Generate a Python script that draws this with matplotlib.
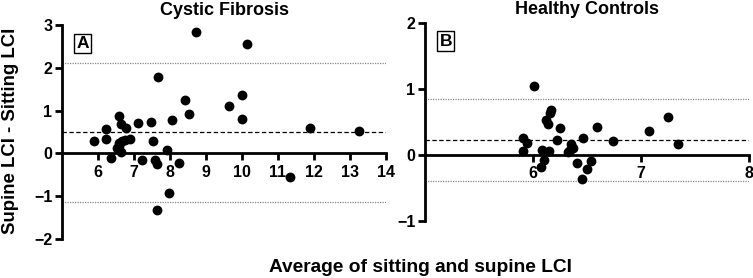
import matplotlib
matplotlib.use("Agg")
import matplotlib.pyplot as plt
import numpy as np

plt.rcParams['font.family'] = ['Liberation Sans', 'DejaVu Sans']
plt.rcParams['font.weight'] = 'bold'

# Panel A: Cystic Fibrosis
cf_avg = [8.72, 10.14, 7.67, 8.43, 8.54, 9.65, 9.99, 10.01, 8.05, 6.59, 6.63, 6.79,
          6.21, 7.10, 7.48, 5.90, 6.21, 6.35, 6.88, 6.75, 6.54, 6.59, 6.63, 6.68, 6.57,
          7.54, 7.23, 7.57, 7.64, 7.93, 8.26, 7.96, 7.63, 11.32, 11.90, 13.24]
cf_diff = [2.82, 2.54, 1.78, 1.25, 0.93, 1.10, 1.36, 0.81, 0.78, 0.87, 0.69, 0.59,
           0.56, 0.71, 0.73, 0.28, 0.34, -0.10, 0.34, 0.31, 0.12, 0.24, 0.04, 0.28, 0.18,
           0.28, -0.15, -0.15, -0.25, 0.07, -0.22, -0.92, -1.31, -0.55, 0.60, 0.52]
cf_mean, cf_upper, cf_lower = 0.50, 2.11, -1.12

# Panel B: Healthy Controls
hc_avg = [6.01, 6.17, 6.16, 6.12, 6.14, 6.25, 6.59, 5.91, 5.94, 6.22, 6.46, 6.74,
          7.07, 7.25, 7.34, 5.91, 6.08, 6.15, 6.32, 6.35, 6.37, 6.34, 6.10, 6.07,
          6.41, 6.54, 6.50, 6.45]
hc_diff = [1.05, 0.68, 0.64, 0.53, 0.47, 0.41, 0.43, 0.25, 0.18, 0.22, 0.26, 0.21,
           0.36, 0.57, 0.16, 0.06, 0.08, 0.06, 0.04, 0.16, 0.11, 0.08, -0.08, -0.18,
           -0.12, -0.09, -0.22, -0.37]
hc_mean, hc_upper, hc_lower = 0.22, 0.85, -0.40

W, H = 753, 278
fig = plt.figure(figsize=(W / 100, H / 100), dpi=100)

def make_ax(l, r, t, b):
    return fig.add_axes([l / W, 1 - b / H, (r - l) / W, (b - t) / H])

axA = make_ax(62, 386, 24.7, 239.3)
axB = make_ax(425, 749, 23.3, 220.7)

def style(ax, x, y, mean, up, lo, xlim, ylim, xticks, yticks, title, label):
    ax.set_xlim(*xlim)
    ax.set_ylim(*ylim)
    ax.axhline(up, color='#888888', lw=0.9, ls=(0, (1, 1)), zorder=1)
    ax.axhline(lo, color='#888888', lw=0.9, ls=(0, (1, 1)), zorder=1)
    ax.axhline(mean, color='black', lw=0.9, ls=(0, (3.5, 2)), zorder=1)
    ax.scatter(x, y, s=50, color='black', zorder=3, linewidths=0, clip_on=False)
    for s in ['top', 'right']:
        ax.spines[s].set_visible(False)
    ax.spines['bottom'].set_position(('data', 0))
    ax.spines['left'].set_linewidth(2)
    ax.spines['bottom'].set_linewidth(2)
    ax.spines['left'].set_bounds(ylim[0], ylim[1])
    ax.set_xticks(xticks)
    ax.set_yticks(yticks)
    ax.tick_params(axis='both', width=2, length=5, labelsize=11.5, direction='out', pad=2)
    ax.tick_params(axis='x', pad=3)
    for lbl in ax.get_xticklabels() + ax.get_yticklabels():
        lbl.set_fontweight('bold')
    ax.set_title(title, fontsize=13, fontweight='bold', pad=7)
    ax.text(0.045, 0.948, label, transform=ax.transAxes, fontsize=12.5, fontweight='bold',
            ha='left', va='top',
            bbox=dict(boxstyle='square,pad=0.12', facecolor='white', edgecolor='black', lw=1))
    ax.patch.set_visible(False)

style(axA, cf_avg, cf_diff, cf_mean, cf_upper, cf_lower, (5, 14), (-2, 3),
      list(range(6, 15)), [-2, -1, 0, 1, 2, 3], 'Cystic Fibrosis', 'A')
style(axB, hc_avg, hc_diff, hc_mean, hc_upper, hc_lower, (5, 8), (-1, 2),
      [6, 7, 8], [-1, 0, 1, 2], 'Healthy Controls', 'B')

fig.text(11 / W, 1 - 131 / H, 'Supine LCI - Sitting LCI', rotation=90, ha='center', va='center',
         fontsize=13.4, fontweight='bold')
fig.text(420 / W, 1 - 267 / H, 'Average of sitting and supine LCI', ha='center', va='center',
         fontsize=13.8, fontweight='bold')

fig.savefig('out.png', dpi=100)
